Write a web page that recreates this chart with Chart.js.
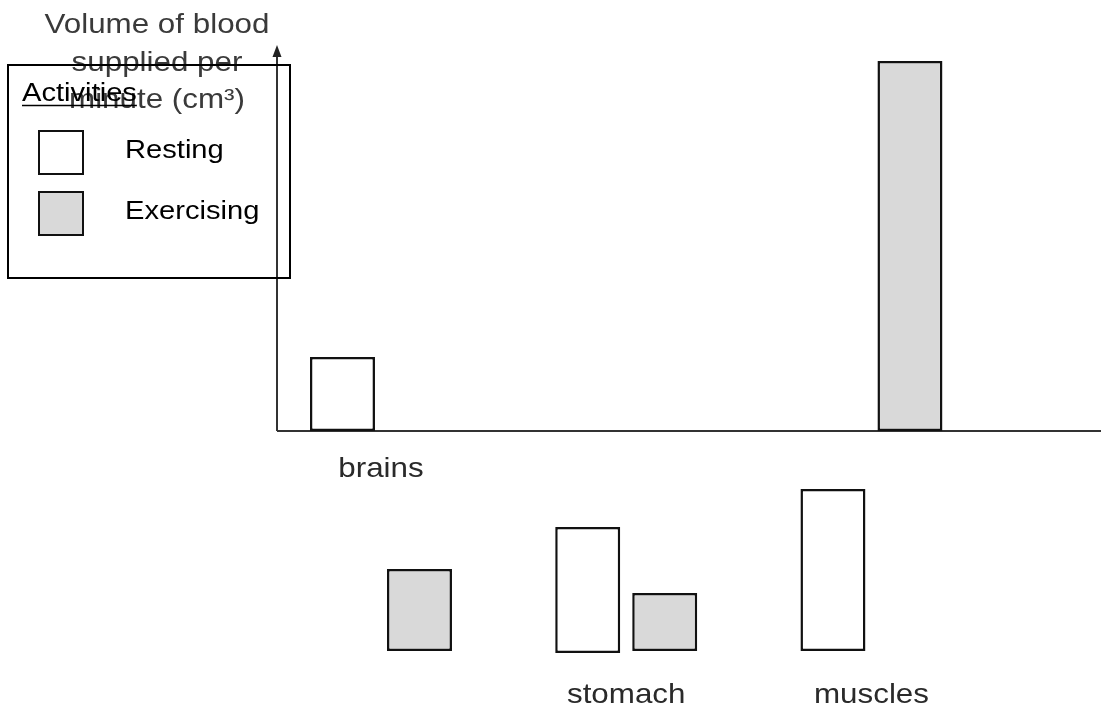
<!DOCTYPE html>
<html>
<head>
<meta charset="utf-8">
<script src="https://cdn.jsdelivr.net/npm/chart.js@4.4.1/dist/chart.umd.min.js"></script>
<style>
  body { margin: 0; background: #fff; }
  #wrap { width: 1101px; height: 711px; }
</style>
</head>
<body>
<div id="wrap"><canvas id="bar-chart"></canvas></div>
<script>
// organs along the x axis
const categories = ["brains", "stomach", "muscles"];
const categoryPos = [1, 2, 3];

// floating bars [bottom, top], in arbitrary units as drawn in the picture
const resting = [[0, 37], [-111, -48], [-110, -29]];
const exercising = [[-110, -69], [-110, -81], [0, 185]];

const titleLines = ["Volume of blood", "supplied per", "minute (cm³)"];
const legendTitle = "Activities";

const FONT = "'Liberation Sans', Arial, sans-serif";
const STRETCH = 1.12;

function stretchedText(ctx, text, x, y, size, color, align) {
    ctx.save();
    ctx.font = size + "px " + FONT;
    ctx.fillStyle = color;
    ctx.textAlign = align || "left";
    ctx.textBaseline = "alphabetic";
    ctx.translate(x, y);
    ctx.scale(STRETCH, 1);
    ctx.fillText(text, 0, 0);
    const w = ctx.measureText(text).width * STRETCH;
    ctx.restore();
    return w;
}

const sketchPlugin = {
    id: "sketch",
    beforeDatasetsDraw(chart) {
        const ctx = chart.ctx;
        const ys = chart.scales.y;
        const x0 = chart.chartArea.left;
        const y0 = ys.getPixelForValue(0);
        const top = chart.chartArea.top;
        ctx.save();
        ctx.strokeStyle = "#333";
        ctx.lineWidth = 2;
        // x axis
        ctx.beginPath();
        ctx.moveTo(x0, y0);
        ctx.lineTo(chart.chartArea.right, y0);
        ctx.stroke();
        // y axis with arrow
        ctx.beginPath();
        ctx.moveTo(x0, y0);
        ctx.lineTo(x0, top + 8);
        ctx.stroke();
        ctx.fillStyle = "#222";
        ctx.beginPath();
        ctx.moveTo(x0, top);
        ctx.lineTo(x0 - 4.5, top + 12);
        ctx.lineTo(x0 + 4.5, top + 12);
        ctx.closePath();
        ctx.fill();
        ctx.restore();
    },
    afterDraw(chart, args, opts) {
        const ctx = chart.ctx;
        const xs = chart.scales.x;

        // y axis title
        titleLines.forEach((t, i) => {
            stretchedText(ctx, t, 157, 33 + i * 37.5, 28, "#3a3a3a", "center");
        });

        // category labels
        categories.forEach((c, i) => {
            stretchedText(ctx, c, xs.getPixelForValue(categoryPos[i]), opts.labelBaselines[i], 28, "#2a2a2a", "center");
        });

        // legend box
        ctx.save();
        ctx.strokeStyle = "#000";
        ctx.lineWidth = 2;
        ctx.strokeRect(8, 65, 282, 213);
        const w = stretchedText(ctx, legendTitle, 22, 101, 26, "#000");
        ctx.beginPath();
        ctx.lineWidth = 1.5;
        ctx.moveTo(22, 105.5);
        ctx.lineTo(22 + w, 105.5);
        ctx.stroke();
        chart.data.datasets.forEach((ds, i) => {
            const y = 130 + i * 61;
            ctx.fillStyle = ds.backgroundColor;
            ctx.fillRect(38, y, 46, 45);
            ctx.lineWidth = 2;
            ctx.strokeStyle = "#111";
            ctx.strokeRect(39, y + 1, 44, 43);
            stretchedText(ctx, ds.label, 125, y + 28, 26, "#000");
        });
        ctx.restore();
    }
};

new Chart(document.getElementById("bar-chart"), {
    type: "bar",
    data: {
        labels: categoryPos,
        datasets: [{
            label: "Resting",
            data: resting,
            backgroundColor: "#ffffff",
            borderColor: "#111",
            borderWidth: 2.5,
            borderSkipped: false
        }, {
            label: "Exercising",
            data: exercising,
            backgroundColor: "#d9d9d9",
            borderColor: "#111",
            borderWidth: 2.5,
            borderSkipped: false
        }]
    },
    options: {
        responsive: true,
        maintainAspectRatio: false,
        animation: false,
        categoryPercentage: 0.628,
        barPercentage: 0.844,
        layout: { padding: { left: 277, top: 45, right: 0, bottom: 0 } },
        scales: {
            x: {
                type: "linear", display: false, offset: false,
                min: 0.576, max: 3.936,
                afterBuildTicks: (s) => { s.ticks = categoryPos.map(v => ({ value: v })); }
            },
            y: { display: false, min: -140, max: 193 }
        },
        plugins: {
            legend: { display: false },
            tooltip: { enabled: false },
            sketch: { labelBaselines: [477, 703, 703] }
        }
    },
    plugins: [sketchPlugin]
});
</script>
</body>
</html>
